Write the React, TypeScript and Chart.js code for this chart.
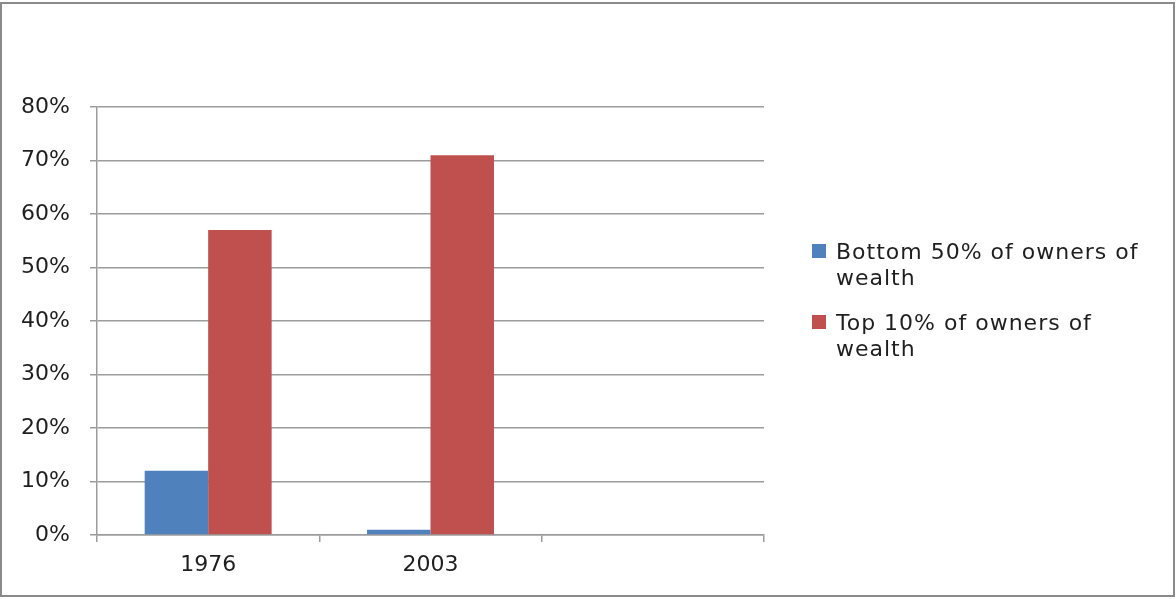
import { useEffect, useRef } from 'react';
import { Chart, registerables } from 'chart.js';

Chart.register(...registerables);

const categories = ['1976', '2003', ''];
const bottom50Values = [12, 1, null];
const top10Values = [57, 71, null];
const seriesNames = ['Bottom 50% of owners of wealth', 'Top 10% of owners of wealth'];
const seriesColors = ['#4F81BD', '#C0504D'];
const yMin = 0;
const yMax = 80;
const yStep = 10;

const FONT = '"DejaVu Sans", Verdana, sans-serif';
const TEXT = '#1f1f1f';
const GRID = '#9c9c9c';

const framePlugin = {
  id: 'frame',
  beforeDraw(chart: any) {
    const ctx = chart.ctx;
    ctx.save();
    ctx.fillStyle = '#ffffff';
    ctx.fillRect(0, 0, chart.width, chart.height);
    ctx.strokeStyle = '#8a8a8a';
    ctx.lineWidth = 2;
    ctx.strokeRect(1, 3, chart.width - 3, chart.height - 6);
    ctx.restore();
  },
};

const legendPlugin = {
  id: 'sideLegend',
  afterDraw(chart: any) {
    const ctx = chart.ctx;
    ctx.save();
    ctx.font = `22px ${FONT}`;
    (ctx as any).letterSpacing = '1px';
    ctx.textBaseline = 'alphabetic';
    ctx.textAlign = 'left';
    const boxX = 812;
    const textX = 836;
    const maxWidth = 315;
    const lineH = 26;
    const baselines = [259, 330];
    chart.data.datasets.forEach((ds: any, i: number) => {
      const words = String(ds.label).split(' ');
      const lines: string[] = [];
      let cur = '';
      words.forEach((w) => {
        const test = cur ? cur + ' ' + w : w;
        if (cur && ctx.measureText(test).width > maxWidth) {
          lines.push(cur);
          cur = w;
        } else {
          cur = test;
        }
      });
      if (cur) lines.push(cur);
      const base = baselines[i];
      ctx.fillStyle = ds.backgroundColor;
      ctx.fillRect(boxX, base - 15, 14, 14);
      ctx.fillStyle = TEXT;
      lines.forEach((ln, j) => ctx.fillText(ln, textX, base + j * lineH));
    });
    ctx.restore();
  },
};

export default function App() {
  const ref = useRef<HTMLCanvasElement | null>(null);

  useEffect(() => {
    if (!ref.current) return;
    const chart = new Chart(ref.current, {
      type: 'bar',
      data: {
        labels: categories,
        datasets: [
          {
            label: seriesNames[0],
            data: bottom50Values,
            backgroundColor: seriesColors[0],
            borderWidth: 0,
          },
          {
            label: seriesNames[1],
            data: top10Values,
            backgroundColor: seriesColors[1],
            borderWidth: 0,
          },
        ],
      },
      options: {
        animation: false,
        responsive: false,
        devicePixelRatio: 1,
        layout: { padding: { left: 21, right: 412, top: 107, bottom: 19 } },
        datasets: {
          bar: { barPercentage: 1, categoryPercentage: 0.571 },
        },
        plugins: {
          legend: { display: false },
          tooltip: { enabled: false },
          title: { display: false },
        },
        scales: {
          x: {
            afterFit: (s: any) => {
              s.height = 45;
            },
            grid: {
              offset: true,
              drawOnChartArea: false,
              drawTicks: true,
              tickLength: 7,
              color: GRID,
              lineWidth: 1.5,
            },
            border: { display: true, color: GRID, width: 1.5 },
            ticks: {
              color: TEXT,
              padding: 10,
              font: { family: FONT, size: 22 },
            },
          },
          y: {
            min: yMin,
            max: yMax,
            afterFit: (s: any) => {
              s.width = 76;
            },
            grid: {
              color: GRID,
              lineWidth: 1.5,
              tickLength: 7,
              drawTicks: true,
            },
            border: { display: true, color: GRID, width: 1.5 },
            ticks: {
              stepSize: yStep,
              color: TEXT,
              padding: 20,
              font: { family: FONT, size: 22 },
              callback: (v: any) => `${v}%`,
            },
          },
        },
      },
      plugins: [framePlugin, legendPlugin],
    });
    return () => chart.destroy();
  }, []);

  return (
    <canvas
      ref={ref}
      width={1176}
      height={599}
      style={{ position: 'fixed', left: 0, top: 0, width: 1176, height: 599, display: 'block' }}
    />
  );
}
